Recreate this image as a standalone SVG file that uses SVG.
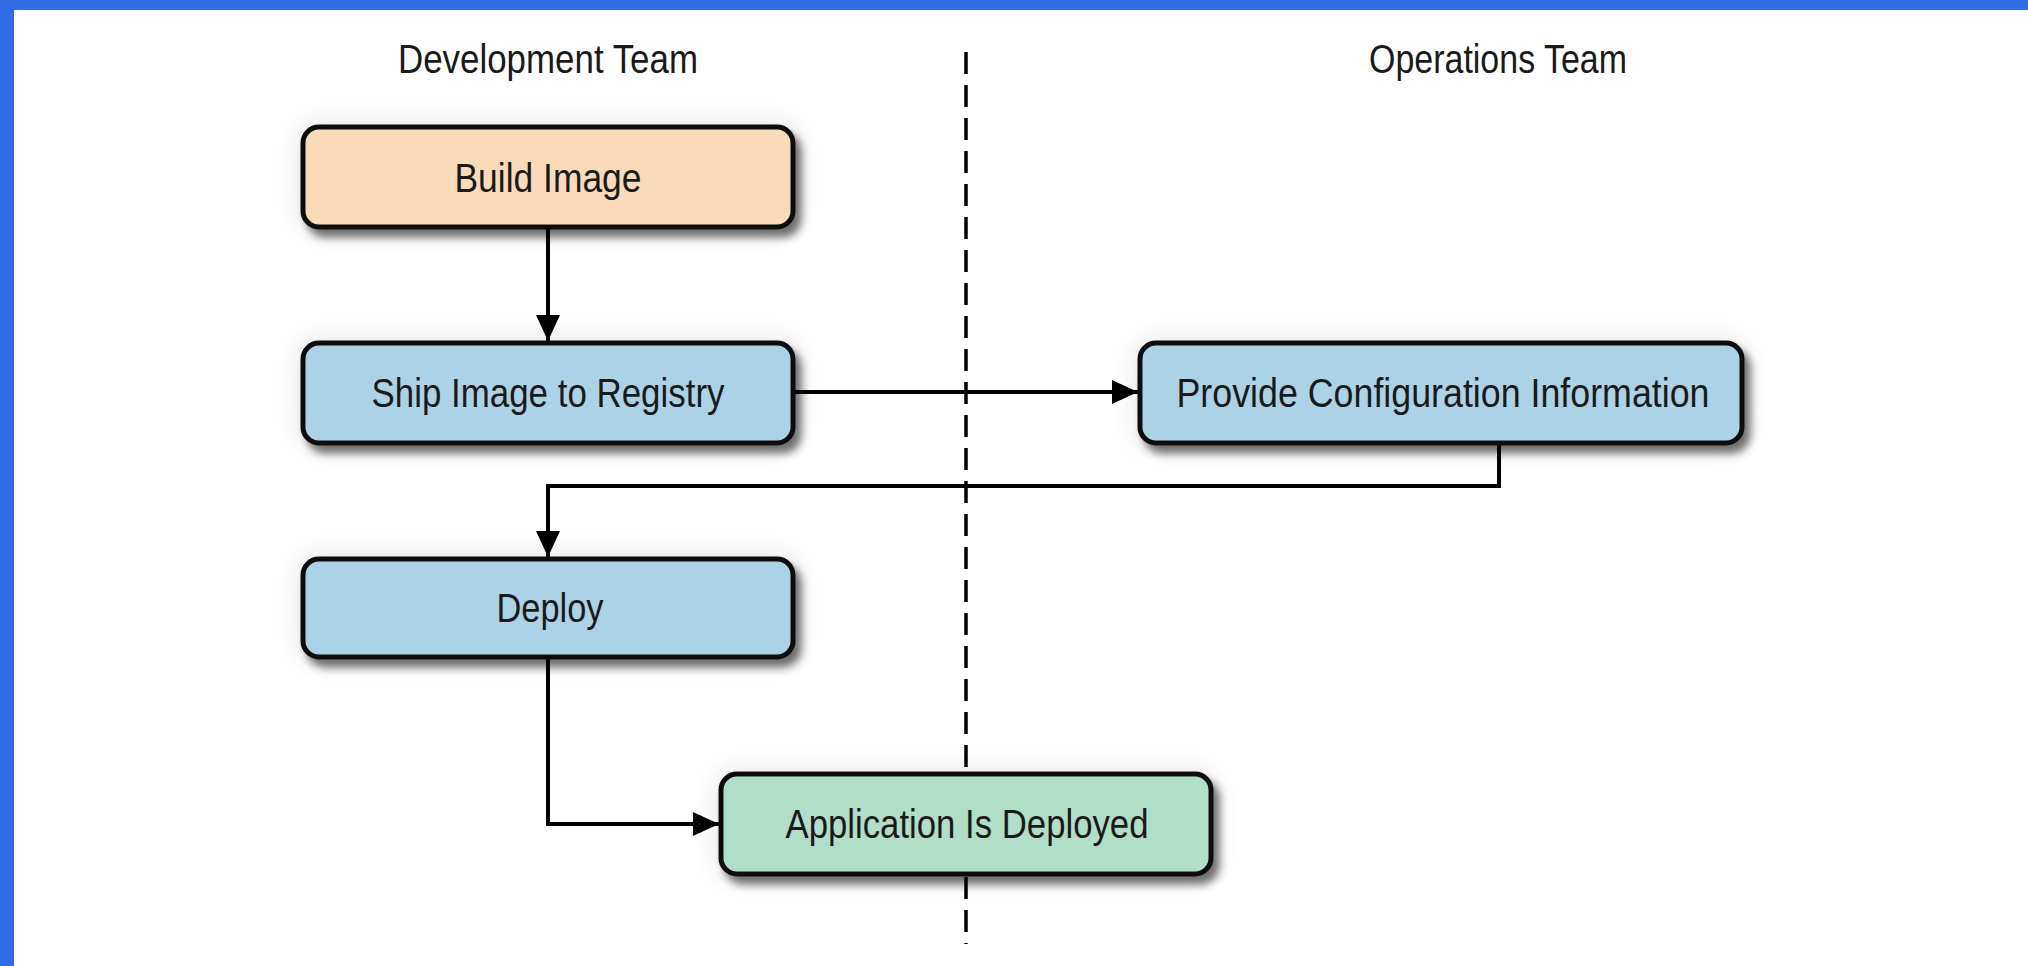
<svg xmlns="http://www.w3.org/2000/svg" width="2028" height="966" viewBox="0 0 2028 966">
<defs>
<style>
.box{stroke:#111;stroke-width:5}
.peach{fill:#F9DBBA}
.blue{fill:#ACD2E7}
.green{fill:#B0DEC8}
.lbl{font-family:"Liberation Sans",Arial,sans-serif;font-size:40px;fill:#1a1a1a;text-anchor:middle}
.hdr{font-family:"Liberation Sans",Arial,sans-serif;font-size:40px;fill:#1a1a1a;text-anchor:middle}
.conn{fill:none;stroke:#000;stroke-width:4}
</style>
<filter id="sh" x="-10%" y="-30%" width="125%" height="170%">
<feGaussianBlur in="SourceAlpha" stdDeviation="14" result="halo"/>
<feComponentTransfer in="halo" result="halo2"><feFuncA type="linear" slope="0.12"/></feComponentTransfer>
<feGaussianBlur in="SourceAlpha" stdDeviation="4" result="b"/>
<feOffset in="b" dx="6" dy="8" result="o"/>
<feComponentTransfer in="o" result="o2"><feFuncA type="linear" slope="0.55"/></feComponentTransfer>
<feMerge><feMergeNode in="halo2"/><feMergeNode in="o2"/><feMergeNode in="SourceGraphic"/></feMerge>
</filter>
<marker id="ah" markerUnits="userSpaceOnUse" markerWidth="28" markerHeight="26" refX="26" refY="12" orient="auto">
<path d="M0,0 L26,12 L0,24 Z" fill="#000"/>
</marker>
</defs>
<rect x="0" y="0" width="2028" height="966" fill="#fff"/>
<rect x="0" y="0" width="2028" height="10" fill="#326CE5"/>
<rect x="0" y="0" width="14" height="966" fill="#326CE5"/>

<text class="hdr" x="548" y="73" textLength="300" lengthAdjust="spacingAndGlyphs">Development Team</text>
<text class="hdr" x="1498" y="73" textLength="258" lengthAdjust="spacingAndGlyphs">Operations Team</text>

<line x1="966" y1="52" x2="966" y2="944" stroke="#000" stroke-width="3.5" stroke-dasharray="22 11"/>

<g id="connectors">
<line class="conn" x1="548" y1="229" x2="548" y2="341" marker-end="url(#ah)"/>
<line class="conn" x1="793" y1="392" x2="1138" y2="392" marker-end="url(#ah)"/>
<polyline class="conn" points="1499,444 1499,486 548,486 548,557" marker-end="url(#ah)"/>
<polyline class="conn" points="548,658 548,824 719,824" marker-end="url(#ah)"/>
</g>

<g id="build-image">
<rect class="box peach" x="303" y="127" width="490" height="100" rx="16" filter="url(#sh)"/>
<text class="lbl" x="548" y="192" textLength="187" lengthAdjust="spacingAndGlyphs">Build Image</text>
</g>
<g id="ship-image">
<rect class="box blue" x="303" y="343" width="490" height="100" rx="16" filter="url(#sh)"/>
<text class="lbl" x="548" y="407" textLength="353" lengthAdjust="spacingAndGlyphs">Ship Image to Registry</text>
</g>
<g id="provide-config">
<rect class="box blue" x="1140" y="343" width="602" height="100" rx="16" filter="url(#sh)"/>
<text class="lbl" x="1443" y="407" textLength="533" lengthAdjust="spacingAndGlyphs">Provide Configuration Information</text>
</g>
<g id="deploy">
<rect class="box blue" x="303" y="559" width="490" height="98" rx="16" filter="url(#sh)"/>
<text class="lbl" x="550" y="622" textLength="107" lengthAdjust="spacingAndGlyphs">Deploy</text>
</g>
<g id="app-deployed">
<rect class="box green" x="721" y="774" width="490" height="100" rx="16" filter="url(#sh)"/>
<text class="lbl" x="967" y="838" textLength="363" lengthAdjust="spacingAndGlyphs">Application Is Deployed</text>
</g>
</svg>
